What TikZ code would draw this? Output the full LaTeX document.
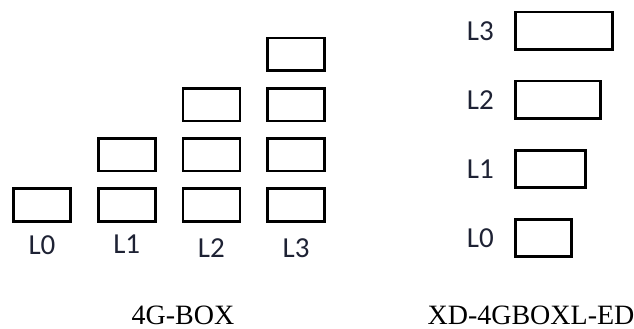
\documentclass[tikz,border=0pt]{standalone}
\usepackage{fontspec}
\setmainfont{Liberation Serif}
\newfontfamily\lblfont{Carlito}
\usepackage{xcolor}
\usepackage{tikz}
\usetikzlibrary{positioning}
\definecolor{lvink}{RGB}{30, 34, 52}
\tikzset{
  blk/.style={
    draw=black, line width=2.7pt, fill=white,
    rectangle, minimum width=57pt, minimum height=32.5pt,
    inner sep=0pt,
  },
  blkR/.style={
    draw=black, line width=2.7pt, fill=white,
    rectangle, minimum height=37.4pt,
    inner sep=0pt,
  },
  lv/.style={text=lvink, font=\lblfont\fontsize{29}{29}\selectfont, inner sep=0pt},
  captxt/.style={font=\fontsize{28}{28}\selectfont, inner sep=0pt},
}

\begin{document}
\begin{tikzpicture}[x=1pt, y=-1pt, node distance=15pt and 25pt]
\useasboundingbox (0,0) rectangle (634,329);

% left: one stack per level, growing upwards
\node[blk] (a0) at (42,205) {};
\node[blk, right=of a0] (b0) {};
\node[blk, above=of b0] (b1) {};
\node[blk, right=of b0] (c0) {};
\node[blk, above=of c0] (c1) {};
\node[blk, above=of c1] (c2) {};
\node[blk, right=of c0] (d0) {};
\node[blk, above=of d0] (d1) {};
\node[blk, above=of d1] (d2) {};
\node[blk, above=of d2] (d3) {};

\node[lv, below=12.5pt of a0] (la) {L0};
\node[lv, below=12.5pt of b0] (lb) {L1};
\node[lv, below=16pt of c0] (lc) {L2};
\node[lv, below=16pt of d0] (ld) {L3};

% right: one box per level, getting wider
\node[blkR, minimum width=56pt, anchor=west] (r0) at (514,238) {};
\node[blkR, minimum width=70pt, above=29pt of r0.north west, anchor=south west] (r1) {};
\node[blkR, minimum width=85pt, above=29pt of r1.north west, anchor=south west] (r2) {};
\node[blkR, minimum width=97pt, above=29pt of r2.north west, anchor=south west] (r3) {};

\node[lv, left=20pt of r0] (lr0) {L0};
\node[lv, left=20pt of r1] (lr1) {L1};
\node[lv, left=20pt of r2] (lr2) {L2};
\node[lv, left=20pt of r3] (lr3) {L3};

% captions
\node[captxt] (capL) at (183,315) {4G-BOX};
\node[captxt] (capR) at (531,315) {XD-4GBOXL-ED};

\end{tikzpicture}
\end{document}
